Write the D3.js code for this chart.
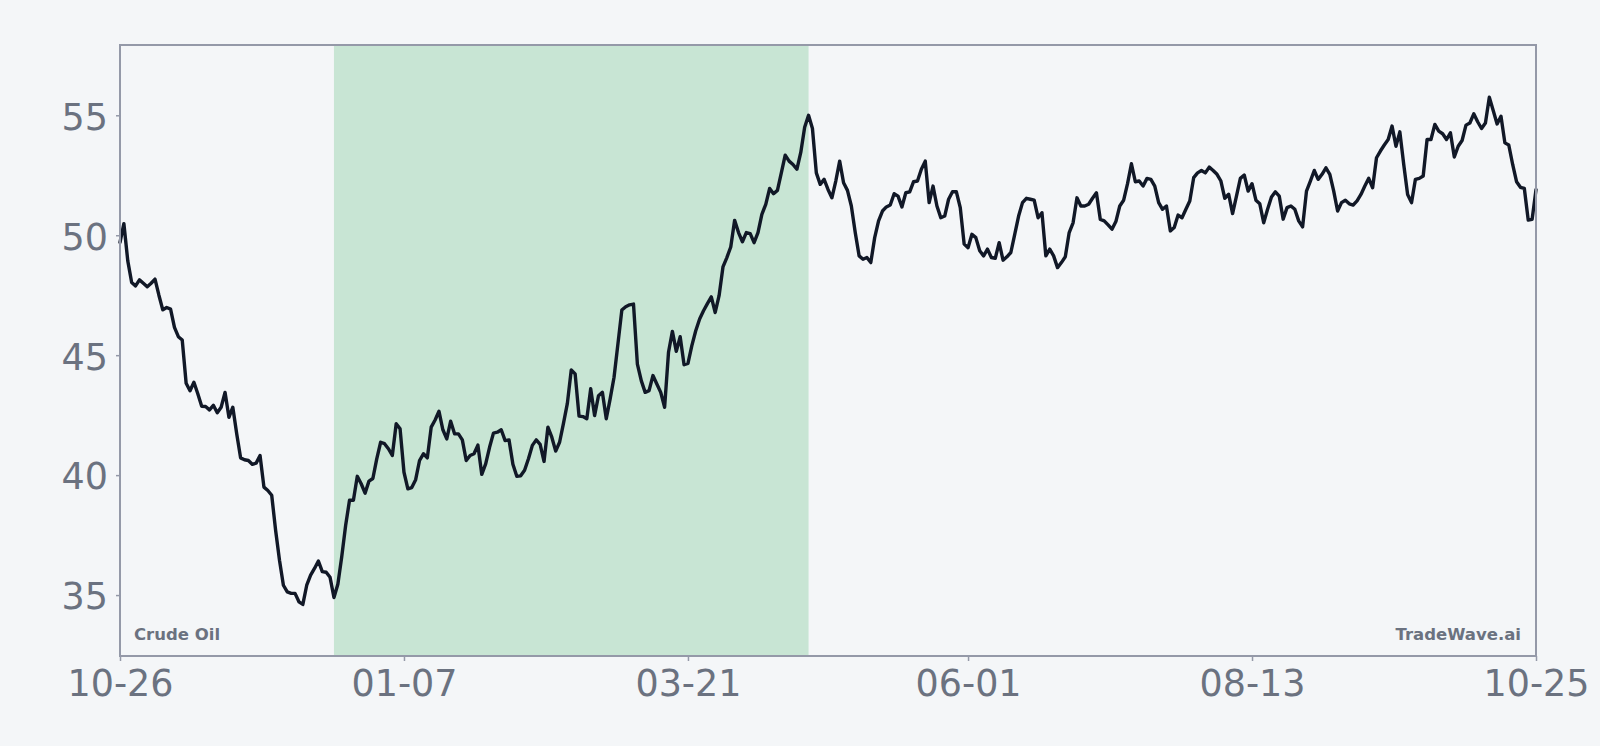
<!DOCTYPE html>
<html>
<head>
<meta charset="utf-8">
<script src="https://cdn.jsdelivr.net/npm/d3@7"></script>
<style>
  html, body { margin: 0; padding: 0; background: #f4f6f8; }
  svg { display: block; }
</style>
</head>
<body>
<svg id="chart" width="1600" height="746"></svg>
<script>
// ---- data ----
const startDate = "2022-10-26";
const seriesName = "Crude Oil";
const watermark = "TradeWave.ai";
const prices = [
  49.7, 50.48, 48.93, 48.03, 47.89, 48.14, 48.0, 47.85, 48.0, 48.17,
  47.5, 46.89, 46.99, 46.92, 46.16, 45.77, 45.63, 43.83, 43.52, 43.87,
  43.39, 42.87, 42.86, 42.72, 42.91, 42.6, 42.83, 43.45, 42.41, 42.83,
  41.72, 40.72, 40.64, 40.61, 40.45, 40.5, 40.82, 39.5, 39.36, 39.16,
  37.7, 36.45, 35.41, 35.13, 35.07, 35.07, 34.72, 34.61, 35.41, 35.83,
  36.11, 36.42, 35.98, 35.95, 35.74, 34.9, 35.45, 36.6, 37.9, 38.95,
  38.95, 39.95, 39.64, 39.25, 39.75, 39.86, 40.68, 41.37, 41.31, 41.1,
  40.82, 42.14, 41.93, 40.12, 39.43, 39.48, 39.81, 40.61, 40.89, 40.72,
  42.0, 42.3, 42.66, 41.89, 41.51, 42.25, 41.72, 41.72, 41.47, 40.61,
  40.82, 40.89, 41.25, 40.03, 40.47, 41.16, 41.75, 41.79, 41.89, 41.44,
  41.47, 40.45, 39.95, 39.97, 40.2, 40.68, 41.24, 41.47, 41.28, 40.57,
  42.0, 41.58, 41.0, 41.37, 42.16, 42.99, 44.38, 44.22, 42.46, 42.44,
  42.35, 43.6, 42.48, 43.31, 43.45, 42.35, 43.18, 44.08, 45.47, 46.88,
  47.02, 47.1, 47.13, 44.63, 43.94, 43.45, 43.52, 44.15, 43.8, 43.45,
  42.83, 45.12, 45.99, 45.16, 45.77, 44.6, 44.66, 45.4, 46.02, 46.51,
  46.85, 47.15, 47.43, 46.78, 47.48, 48.68, 49.07, 49.51, 50.62, 50.11,
  49.73, 50.11, 50.07, 49.69, 50.11, 50.87, 51.29, 51.95, 51.73, 51.87,
  52.6, 53.34, 53.09, 52.95, 52.75, 53.45, 54.5, 55.0, 54.45, 52.6,
  52.12, 52.33, 51.91, 51.56, 52.26, 53.09, 52.19, 51.87, 51.22, 50.11,
  49.14, 49.0, 49.07, 48.86, 49.9, 50.6, 51.01, 51.18, 51.26, 51.73,
  51.63, 51.18, 51.77, 51.81, 52.23, 52.26, 52.75, 53.09, 51.36, 52.05,
  51.22, 50.73, 50.8, 51.5, 51.81, 51.81, 51.15, 49.63, 49.48, 50.04,
  49.9, 49.35, 49.14, 49.42, 49.07, 49.04, 49.69, 48.96, 49.1, 49.28,
  50.04, 50.8, 51.36, 51.54, 51.5, 51.46, 50.73, 50.94, 49.14, 49.42,
  49.14, 48.65, 48.86, 49.1, 50.11, 50.52, 51.56, 51.22, 51.22, 51.29,
  51.54, 51.77, 50.66, 50.6, 50.43, 50.25, 50.57, 51.22, 51.46, 52.15,
  52.98, 52.23, 52.26, 52.05, 52.37, 52.33, 52.05, 51.36, 51.08, 51.22,
  50.18, 50.32, 50.84, 50.73, 51.08, 51.43, 52.4, 52.6, 52.7, 52.6,
  52.84, 52.7, 52.54, 52.26, 51.54, 51.71, 50.9, 51.63, 52.37, 52.51,
  51.84, 52.15, 51.46, 51.31, 50.52, 51.08, 51.59, 51.81, 51.63, 50.67,
  51.15, 51.22, 51.08, 50.6, 50.35, 51.84, 52.26, 52.7, 52.33, 52.54,
  52.81, 52.54, 51.84, 51.01, 51.36, 51.46, 51.31, 51.26, 51.43, 51.7,
  52.05, 52.37, 51.98, 53.23, 53.51, 53.76, 53.99, 54.55, 53.71, 54.31,
  52.95, 51.7, 51.36, 52.33, 52.37, 52.47, 53.99, 53.99, 54.62, 54.34,
  54.23, 53.99, 54.27, 53.26, 53.71, 53.95, 54.59, 54.68, 55.06, 54.73,
  54.45, 54.68, 55.75, 55.2, 54.64, 54.96, 53.85, 53.76, 52.95, 52.23,
  52.0, 51.95, 50.63, 50.66, 51.9
];
const shadeRange = ["2022-12-20", "2023-04-21"];
const xTickLabels = ["10-26", "01-07", "03-21", "06-01", "08-13", "10-25"];
const yTicks = [35, 40, 45, 50, 55];
const yDomain = [32.46, 57.93];

// ---- layout ----
const W = 1600, H = 746;
const M = { left: 120, right: 64, top: 45, bottom: 90 };
const svg = d3.select("#chart");
const parse = d3.utcParse("%Y-%m-%d");
const fmt = d3.utcFormat("%m-%d");
const t0 = parse(startDate);
const data = prices.map((v, i) => ({ date: d3.utcDay.offset(t0, i), value: v }));

const x = d3.scaleUtc()
  .domain(d3.extent(data, d => d.date))
  .range([M.left, W - M.right]);
const y = d3.scaleLinear().domain(yDomain).range([H - M.bottom, M.top]);

const axisColor = "#9499a8";
const textColor = "#6b7280";

// shaded period
svg.append("rect")
  .attr("x", x(parse(shadeRange[0])))
  .attr("y", M.top)
  .attr("width", x(parse(shadeRange[1])) - x(parse(shadeRange[0])))
  .attr("height", H - M.bottom - M.top)
  .attr("fill", "#c8e5d4");

// line
const line = d3.line().x(d => x(d.date)).y(d => y(d.value));
svg.append("path")
  .datum(data)
  .attr("d", line)
  .attr("fill", "none")
  .attr("stroke", "#111827")
  .attr("stroke-width", 3.4)
  .attr("stroke-linejoin", "round")
  .attr("stroke-linecap", "round");

// x tick values taken from labels (matching dates in the series)
const tickDates = xTickLabels.map(lbl => data.find(d => fmt(d.date) === lbl).date);

const xAxis = svg.append("g")
  .attr("transform", `translate(0,${H - M.bottom})`)
  .call(d3.axisBottom(x).tickValues(tickDates).tickFormat(fmt).tickSize(5).tickPadding(9));
xAxis.select(".domain").remove();
xAxis.selectAll("line").attr("stroke", axisColor).attr("stroke-width", 1.5);
xAxis.selectAll("text")
  .attr("fill", textColor)
  .style("font-family", "'DejaVu Sans', sans-serif")
  .style("font-size", "36.5px");

const yAxis = svg.append("g")
  .attr("transform", `translate(${M.left},0)`)
  .call(d3.axisLeft(y).tickValues(yTicks).tickSize(4).tickPadding(8));
yAxis.select(".domain").remove();
yAxis.selectAll("line").attr("stroke", axisColor).attr("stroke-width", 1.5);
yAxis.selectAll("text")
  .attr("fill", textColor)
  .attr("dy", "0.38em")
  .style("font-family", "'DejaVu Sans', sans-serif")
  .style("font-size", "36.5px");

// frame
svg.append("rect")
  .attr("x", M.left)
  .attr("y", M.top)
  .attr("width", W - M.right - M.left)
  .attr("height", H - M.bottom - M.top)
  .attr("fill", "none")
  .attr("stroke", axisColor)
  .attr("stroke-width", 2);

// labels
svg.append("text")
  .attr("x", M.left + 14)
  .attr("y", H - M.bottom - 16)
  .attr("fill", textColor)
  .style("font-family", "'DejaVu Sans', sans-serif")
  .style("font-weight", "bold")
  .style("font-size", "16.5px")
  .text(seriesName);

svg.append("text")
  .attr("x", W - M.right - 15)
  .attr("y", H - M.bottom - 16)
  .attr("text-anchor", "end")
  .attr("fill", textColor)
  .style("font-family", "'DejaVu Sans', sans-serif")
  .style("font-weight", "bold")
  .style("font-size", "16.5px")
  .text(watermark);
</script>
</body>
</html>
